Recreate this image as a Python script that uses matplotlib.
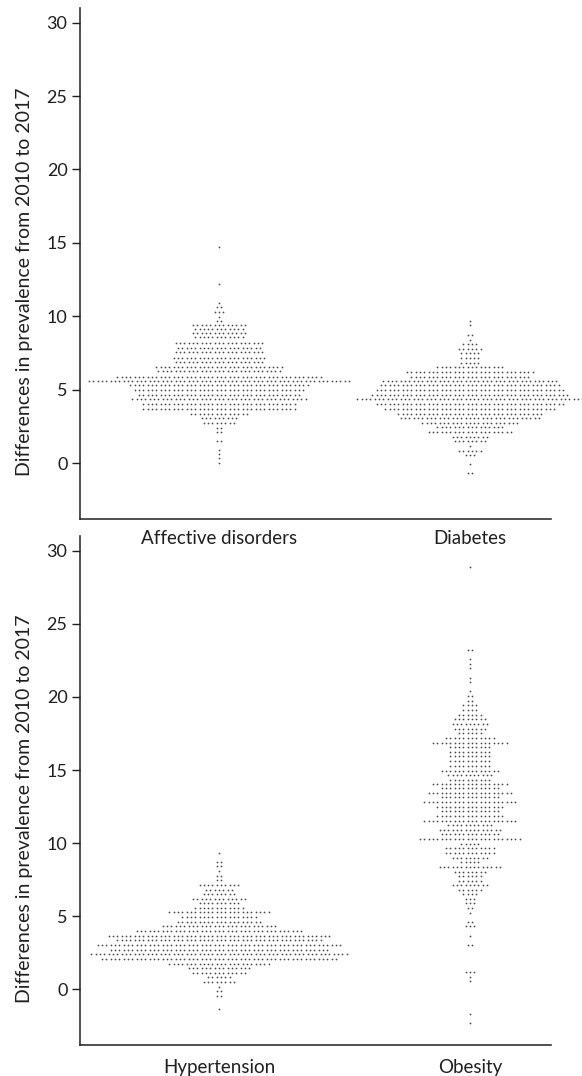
import matplotlib
matplotlib.use("Agg")
import matplotlib.pyplot as plt
import numpy as np

plt.rcParams["font.family"] = ["Lato", "DejaVu Sans"]

# ---- dot rows: y value of each row and number of dots in it ----
aff_y = [14.75, 12.19, 10.92, 10.65, 10.31, 9.97, 9.69, 9.40, 9.13, 8.83, 8.56, 8.15,
         7.86, 7.58, 7.13, 6.86, 6.56, 6.29, 5.88, 5.61, 5.29, 4.97, 4.65, 4.34, 4.02,
         3.70, 3.38, 3.07, 2.75, 2.41, 2.11, 1.48, 0.89, 0.61, 0.34, 0.02]
aff_n = [1, 1, 1, 2, 3, 1, 2, 13, 12, 13, 12, 21,
         20, 21, 22, 21, 30, 29, 48, 61, 42, 40, 38, 41, 36,
         36, 14, 9, 8, 2, 2, 2, 1, 1, 1, 1]

dia_y = [9.69, 9.40, 8.76, 8.42, 8.10, 7.76, 7.47, 7.13, 6.83, 6.52, 6.22, 5.88, 5.61,
         5.29, 4.97, 4.65, 4.34, 4.02, 3.70, 3.38, 3.07, 2.75, 2.45, 2.11, 1.79, 1.48,
         1.16, 0.86, 0.55, -0.08, -0.70]
dia_n = [1, 1, 2, 1, 4, 6, 5, 5, 5, 16, 30, 28, 41,
         42, 44, 46, 53, 44, 40, 34, 33, 23, 16, 20, 9, 8,
         1, 6, 3, 1, 2]

hyp_y = [9.36, 8.73, 8.41, 8.09, 7.77, 7.45, 7.16, 6.82, 6.52, 6.20, 5.88, 5.57, 5.27,
         4.95, 4.64, 4.32, 4.00, 3.68, 3.36, 3.04, 2.73, 2.41, 2.09, 1.77, 1.45, 1.14,
         0.84, 0.52, 0.20, -0.11, -0.43, -1.36]
hyp_n = [1, 2, 2, 1, 2, 2, 10, 7, 8, 13, 10, 12, 24,
         18, 20, 27, 39, 52, 48, 57, 51, 60, 55, 24, 15, 13,
         6, 8, 1, 2, 2, 1]

obe_y = [28.90, 23.22, 22.59, 22.27, 21.97, 21.32, 21.00, 20.38, 20.06, 19.75, 19.43,
         19.11, 18.79, 18.47, 18.15, 17.84, 17.52, 17.20, 16.88, 16.56, 16.25, 15.93,
         15.61, 15.29, 14.97, 14.66, 14.34, 14.05, 13.75, 13.45, 13.14, 12.82, 12.49,
         12.18, 11.86, 11.54, 11.23, 10.91, 10.61, 10.29, 9.97, 9.66, 9.34, 9.02, 8.70,
         8.38, 8.06, 7.75, 7.43, 7.14, 6.82, 6.50, 6.18, 5.88, 5.57, 5.25, 4.61, 4.32,
         3.68, 3.07, 1.18, 0.87, 0.55, -1.70, -2.32]
obe_n = [1, 2, 1, 1, 1, 1, 1, 1, 2, 2, 4,
         4, 6, 8, 9, 8, 6, 12, 18, 10, 10, 10,
         10, 10, 14, 11, 10, 18, 14, 20, 14, 22, 16,
         14, 16, 22, 11, 15, 14, 24, 5, 12, 12, 9, 5,
         15, 8, 6, 6, 9, 6, 4, 3, 3, 2, 1, 2, 3,
         1, 2, 3, 1, 1, 1, 1]

panels = [
    (["Affective disorders", "Diabetes"], [(aff_y, aff_n), (dia_y, dia_n)]),
    (["Hypertension", "Obesity"], [(hyp_y, hyp_n), (obe_y, obe_n)]),
]

INK = "#1f1f1f"
DOT = "#4a4a4a"
XLIM = (-0.554, 1.323)
YLIM = (-3.8, 31.0)

fig = plt.figure(figsize=(5.82, 10.76), dpi=100)
boxes = [[0.1375, 0.5177, 0.809, 0.4749], [0.1375, 0.0288, 0.809, 0.4730]]
pads = [8, 10]

for box, pad, (cats, series) in zip(boxes, pads, panels):
    ax = fig.add_axes(box)
    ax.set_xlim(*XLIM)
    ax.set_ylim(*YLIM)
    # dot spacing: ~4.3 px across the axes
    dx = 4.33 * (XLIM[1] - XLIM[0]) / (box[2] * 582)
    for i, (ys, ns) in enumerate(series):
        for y, n in zip(ys, ns):
            xs = i + (np.arange(n) - (n - 1) / 2) * dx
            ax.scatter(xs, np.full(n, y), s=1.6, color=DOT, linewidths=0,
                       clip_on=False, zorder=3)
    ax.set_xticks([0, 1])
    ax.set_xticklabels(cats, fontsize=13.5, color=INK)
    ax.tick_params(axis="x", length=0, pad=pad)
    ax.set_yticks([0, 5, 10, 15, 20, 25, 30])
    ax.tick_params(axis="y", length=5.5, width=1.0, color=INK, pad=3.5,
                   labelsize=13, labelcolor=INK)
    for side in ["top", "right"]:
        ax.spines[side].set_visible(False)
    for side in ["left", "bottom"]:
        ax.spines[side].set_color(INK)
        ax.spines[side].set_linewidth(1.1)
    ax.set_ylabel("Differences in prevalence from 2010 to 2017", fontsize=14,
                  color=INK)
    ax.yaxis.set_label_coords(-0.10, 0.464)
    ax.patch.set_alpha(0)

fig.savefig("out.png", dpi=100, facecolor="white")
